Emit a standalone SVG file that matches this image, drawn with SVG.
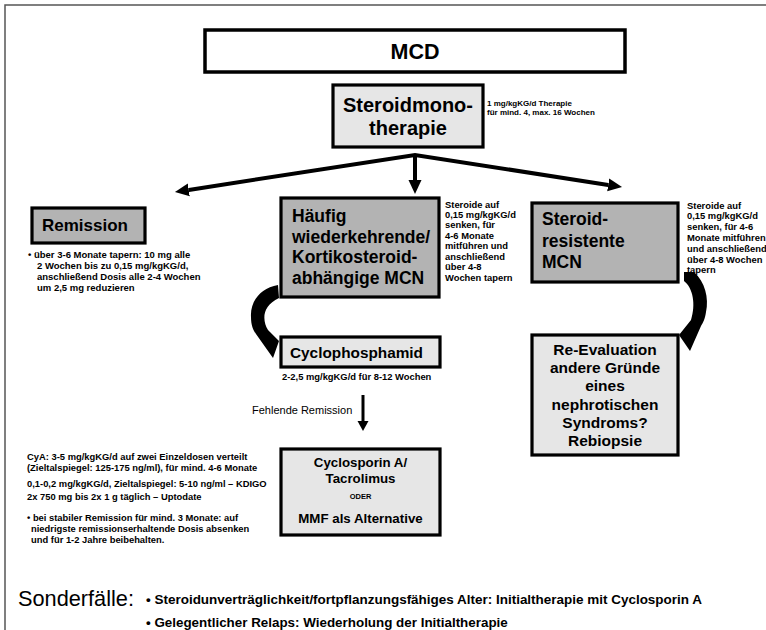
<svg xmlns="http://www.w3.org/2000/svg" width="766" height="630" viewBox="0 0 766 630">
<style>
text{font-family:"Liberation Sans",Arial,sans-serif;fill:#000}
.b{font-weight:bold}
.light{fill:#e6e6e6;stroke:#000;stroke-width:3.2}
.dark{fill:#b3b3b3;stroke:#000;stroke-width:3.2}
.h{font-size:17.5px;font-weight:bold}
.side{font-size:9.4px;font-weight:bold}
.note{font-size:9.5px;font-weight:bold}
.ln{fill:none;stroke:#000;stroke-width:4}
.curve{fill:#000;stroke:none}
</style>
<defs>
<marker id="head" viewBox="0 -7 14 14" markerWidth="14" markerHeight="14" refX="0" refY="0" orient="auto-start-reverse" markerUnits="userSpaceOnUse"><path d="M0,-6.5 L14,0 L0,6.5 Z" fill="#000"/></marker>
<marker id="headS" viewBox="0 -6 10 12" markerWidth="10" markerHeight="12" refX="0" refY="0" orient="auto" markerUnits="userSpaceOnUse"><path d="M0,-5.5 L10,0 L0,5.5 Z" fill="#000"/></marker>
</defs>
<rect x="0" y="0" width="766" height="630" fill="#fff"/>
<rect x="5" y="5" width="800" height="700" fill="none" stroke="#555" stroke-width="1.5"/>

<g id="mcd">
<rect x="205" y="30" width="420" height="42" fill="#fff" stroke="#000" stroke-width="3.5"/>
<text x="415" y="59" class="b" font-size="21.5" text-anchor="middle">MCD</text>
</g>

<g id="steroidmono">
<rect x="333" y="85" width="150" height="62" class="light"/>
<text x="408" y="112" class="b" font-size="20" text-anchor="middle">Steroidmono-</text>
<text x="408" y="135" class="b" font-size="20" text-anchor="middle">therapie</text>
<text x="487" y="106" class="b" font-size="8">1 mg/kgKG/d Therapie</text>
<text x="487" y="115" class="b" font-size="8">für mind. 4, max. 16 Wochen</text>
</g>

<g id="remission">
<rect x="32" y="208" width="113" height="35" class="dark"/>
<text x="42" y="231" class="b" font-size="17">Remission</text>
<text class="note"><tspan x="28" y="257.6">• über 3-6 Monate tapern: 10 mg alle</tspan><tspan x="37" y="269">2 Wochen bis zu 0,15 mg/kgKG/d,</tspan><tspan x="37" y="280">anschließend Dosis alle 2-4 Wochen</tspan><tspan x="37" y="291">um 2,5 mg reduzieren</tspan></text>
</g>

<g id="haeufig">
<rect x="281" y="198" width="158" height="99" class="dark"/>
<text class="h"><tspan x="292" y="222">Häufig</tspan><tspan x="292" y="242.5">wiederkehrende/</tspan><tspan x="292" y="263">Kortikosteroid-</tspan><tspan x="292" y="283.5">abhängige MCN</tspan></text>
<text class="side"><tspan x="445" y="207.5">Steroide auf</tspan><tspan x="445" y="217.9">0,15 mg/kgKG/d</tspan><tspan x="445" y="228.4">senken, für</tspan><tspan x="445" y="238.8">4-6 Monate</tspan><tspan x="445" y="249.2">mitführen und</tspan><tspan x="445" y="259.7">anschließend</tspan><tspan x="445" y="270.1">über 4-8</tspan><tspan x="445" y="280.5">Wochen tapern</tspan></text>
</g>

<g id="resistent">
<rect x="532" y="203" width="146" height="79" class="dark"/>
<text class="h"><tspan x="542" y="225">Steroid-</tspan><tspan x="542" y="247">resistente</tspan><tspan x="542" y="268">MCN</tspan></text>
<text class="side"><tspan x="687" y="208.5">Steroide auf</tspan><tspan x="687" y="219.3">0,15 mg/kgKG/d</tspan><tspan x="687" y="230.1">senken, für 4-6</tspan><tspan x="687" y="240.9">Monate mitführen</tspan><tspan x="687" y="251.7">und anschließend</tspan><tspan x="687" y="262.5">über 4-8 Wochen</tspan><tspan x="687" y="273.3">tapern</tspan></text>
</g>

<g id="cyclophosphamid">
<rect x="281" y="337" width="159" height="30" class="light"/>
<text x="290" y="357.5" class="b" font-size="15.5" textLength="133" lengthAdjust="spacingAndGlyphs">Cyclophosphamid</text>
<text x="282" y="380" class="b" font-size="9.4">2-2,5 mg/kgKG/d für 8-12 Wochen</text>
</g>

<g id="fehlende-label">
<text x="252" y="414" font-size="11">Fehlende Remission</text>
</g>

<g id="reevaluation">
<rect x="532" y="335" width="146" height="120" class="light"/>
<text class="b" font-size="15.5" text-anchor="middle"><tspan x="605" y="355">Re-Evaluation</tspan><tspan x="605" y="373.2">andere Gründe</tspan><tspan x="605" y="391.4">eines</tspan><tspan x="605" y="409.6">nephrotischen</tspan><tspan x="605" y="427.8">Syndroms?</tspan><tspan x="605" y="446">Rebiopsie</tspan></text>
</g>

<g id="cyclosporin">
<rect x="281" y="449" width="159" height="86" class="light" stroke-width="3.5"/>
<text class="b" font-size="13.3" text-anchor="middle"><tspan x="360.5" y="467.3">Cyclosporin A/</tspan><tspan x="360.5" y="482.7">Tacrolimus</tspan></text>
<text x="360.5" y="499" class="b" font-size="7.5" text-anchor="middle">ODER</text>
<text x="360.5" y="522.7" class="b" font-size="13.3" text-anchor="middle">MMF als Alternative</text>
</g>

<g id="cya-notes">
<text class="b" font-size="9.4"><tspan x="27" y="460">CyA: 3-5 mg/kgKG/d auf zwei Einzeldosen verteilt</tspan><tspan x="27" y="470.6">(Zieltalspiegel: 125-175 ng/ml), für mind. 4-6 Monate</tspan><tspan x="27" y="486.6">0,1-0,2 mg/kgKG/d, Zieltalspiegel: 5-10 ng/ml – KDIGO</tspan><tspan x="27" y="500">2x 750 mg bis 2x 1 g täglich – Uptodate</tspan><tspan x="27" y="520.6">• bei stabiler Remission für mind. 3 Monate: auf</tspan><tspan x="31" y="532.3">niedrigste remissionserhaltende Dosis absenken</tspan><tspan x="31" y="543.3">und für 1-2 Jahre beibehalten.</tspan></text>
</g>

<g id="sonderfaelle">
<text x="18" y="606" font-size="21.5" textLength="116" lengthAdjust="spacingAndGlyphs">Sonderfälle:</text>
<text x="146" y="604" class="b" font-size="13.4" textLength="556" lengthAdjust="spacingAndGlyphs">• Steroidunverträglichkeit/fortpflanzungsfähiges Alter: Initialtherapie mit Cyclosporin A</text>
<text x="146" y="627" class="b" font-size="13.4">• Gelegentlicher Relaps: Wiederholung der Initialtherapie</text>
</g>

<g id="connectors">
<path class="ln" d="M188.8,189.9 L415,155 L608.2,184.9" marker-start="url(#head)" marker-end="url(#head)" stroke-linejoin="miter"/>
<path class="ln" d="M415,155 L415,180" marker-end="url(#head)"/>
<path d="M363,395 L363,421" fill="none" stroke="#000" stroke-width="3" marker-end="url(#headS)"/>
<path class="curve" d="M278,285 C260,288 250,302 251,317 C251,325 253,330 256,334 L273,358 L279,341 L268,330 C262,320 262,306 279,298 Z"/>
<path class="curve" d="M684,272 L694,272 C705,282 709,298 706,312 C705,319 703,323 701,326 L690,351 L679,335 L691,320 C696,304 693,288 684,281 Z"/>
</g>
</svg>
